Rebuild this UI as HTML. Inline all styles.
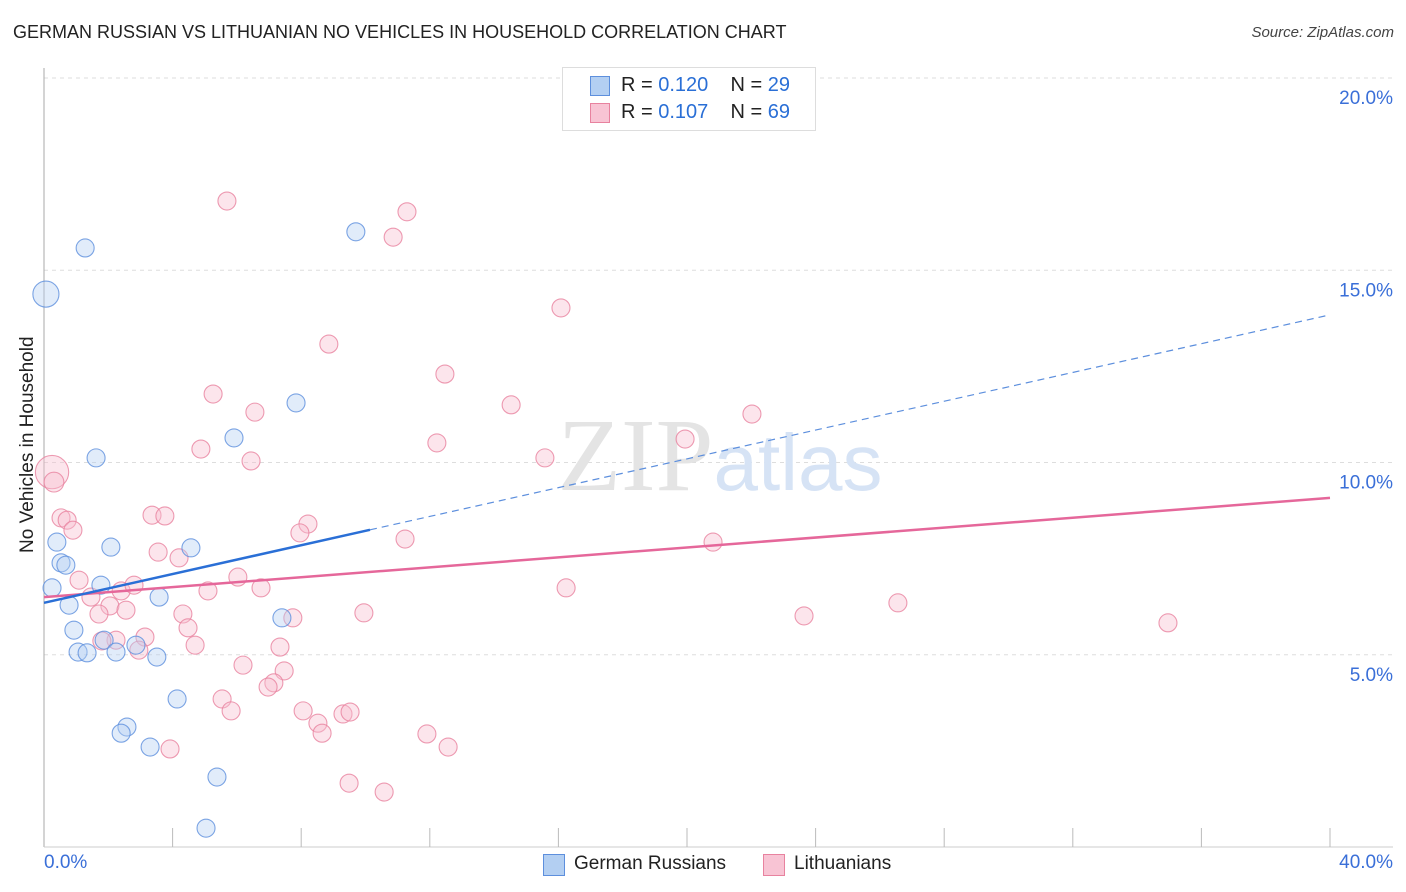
<!DOCTYPE html>
<html><head><meta charset="utf-8"><style>
body{margin:0;background:#fff;font-family:"Liberation Sans",sans-serif;}
#wrap{position:relative;width:1406px;height:892px;overflow:hidden}
.t{position:absolute;white-space:nowrap}
</style></head><body><div id="wrap">
<div class="t" style="left:13px;top:22px;font-size:18px;color:#222">GERMAN RUSSIAN VS LITHUANIAN NO VEHICLES IN HOUSEHOLD CORRELATION CHART</div>
<div class="t" style="right:12px;top:24px;font-size:15px;color:#444;font-style:italic">Source: ZipAtlas.com</div>
<svg id="plot" width="1406" height="892" style="position:absolute;left:0;top:0"></svg>
</div>
<script>
const blueX=[0.06,1.28,9.70,7.84,5.91,1.62,0.40,2.08,4.57,0.53,0.68,0.25,1.77,0.78,3.58,0.93,7.40,1.06,1.34,1.87,2.86,2.24,3.51,4.14,2.58,2.40,3.30,5.38,5.04];
const blueY=[14.38,15.58,16.0,11.55,10.64,10.12,7.93,7.80,7.78,7.39,7.33,6.74,6.81,6.29,6.50,5.64,5.96,5.07,5.05,5.38,5.25,5.07,4.94,3.85,3.12,2.96,2.60,1.82,0.49];
const blueS=[1.45,1,1,1,1,1,1,1,1,1,1,1,1,1,1,1,1,1,1,1,1,1,1,1,1,1,1,1,1];
const pinkX=[5.69,11.29,10.86,16.08,8.86,12.47,5.26,14.53,6.56,22.02,19.94,12.22,4.88,15.58,6.44,0.25,0.31,0.53,0.72,0.90,3.36,3.76,8.21,7.96,11.23,20.81,3.55,4.20,1.09,6.03,6.75,16.24,2.40,2.80,1.46,2.05,2.55,1.71,4.32,5.10,7.74,9.95,23.64,26.56,34.96,4.48,4.70,3.14,2.24,1.80,2.95,7.34,7.47,6.19,7.15,6.97,5.54,5.82,8.06,8.52,8.65,9.30,9.52,11.91,12.57,3.92,9.49,10.58];
const pinkY=[16.80,16.52,15.86,14.02,13.08,12.30,11.78,11.50,11.31,11.26,10.61,10.51,10.35,10.12,10.04,9.75,9.49,8.56,8.50,8.24,8.63,8.61,8.40,8.17,8.01,7.93,7.67,7.52,6.94,7.02,6.74,6.74,6.66,6.81,6.50,6.27,6.16,6.06,6.06,6.66,5.96,6.09,6.01,6.35,5.83,5.70,5.25,5.46,5.38,5.36,5.12,5.20,4.58,4.73,4.27,4.16,3.85,3.54,3.54,3.22,2.96,3.46,3.51,2.94,2.60,2.55,1.66,1.43];
const pinkS=[1,1,1,1,1,1,1,1,1,1,1,1,1,1,1,1.85,1.1,1,1,1,1,1,1,1,1,1,1,1,1,1,1,1,1,1,1,1,1,1,1,1,1,1,1,1,1,1,1,1,1,1,1,1,1,1,1,1,1,1,1,1,1,1,1,1,1,1,1,1];
const yTicks=[5,10,15,20];
const yTickLabels=["5.0%","10.0%","15.0%","20.0%"];
const xTicks=[0,4,8,12,16,20,24,28,32,36,40];
const blueTrend=[6.35,13.84], blueSolidEnd=10.14;
const pinkTrend=[6.50,9.08];

const NS="http://www.w3.org/2000/svg";
const svg=document.getElementById('plot');
const X=v=>44+v*32.15, Y=v=>847-v*38.45;
function mk(t,a){const e=document.createElementNS(NS,t);for(const k in a)e.setAttribute(k,a[k]);svg.appendChild(e);return e;}
yTicks.forEach((v,i)=>{
 const g=mk('line',{x1:44,x2:1393,y1:Y(v),y2:Y(v),stroke:'#ddd','stroke-dasharray':'4,4'});
 
 
 const t=mk('text',{x:1393,y:Y(v)+26,'text-anchor':'end','font-size':19,fill:'#3a6fd8','font-family':'Liberation Sans'});
 t.textContent=yTickLabels[i];
 
 
});
const yl=mk('line',{x1:44,x2:44,y1:68,y2:847,stroke:'#aaa'});


const xl=mk('line',{x1:44,x2:1393,y1:847,y2:847,stroke:'#ccc'});


xTicks.forEach(v=>{if(v==0)return;
 const l=mk('line',{x1:X(v),x2:X(v),y1:828,y2:847,stroke:'#bbb'});
 
 
});
const wm=mk('text',{x:720,y:490,'text-anchor':'middle','font-size':104,fill:'#e4e4e4','font-family':'Liberation Serif'});
wm.innerHTML='ZIP<tspan fill="#d6e3f5" font-family="Liberation Sans" font-size="80">atlas</tspan>';


function dots(xs,ys,ss,fill,stroke,name){xs.forEach((x,i)=>{
 const c=mk('circle',{cx:X(x),cy:Y(ys[i]),r:9*ss[i],fill:fill,'fill-opacity':0.4,stroke:stroke,'stroke-opacity':0.8,'stroke-width':1.1});
 
 
});}
dots(pinkX,pinkY,pinkS,'#f8bfd0','#e8829f','lithuanian-point');
dots(blueX,blueY,blueS,'#b3cff2','#5d8fdd','german-russian-point');
const pl=mk('line',{x1:X(0),y1:Y(pinkTrend[0]),x2:X(40),y2:Y(pinkTrend[1]),stroke:'#e5679a','stroke-width':2.5});


const by=v=>blueTrend[0]+(blueTrend[1]-blueTrend[0])*v/40;
const bl=mk('line',{x1:X(0),y1:Y(blueTrend[0]),x2:X(blueSolidEnd),y2:Y(by(blueSolidEnd)),stroke:'#2a6fd6','stroke-width':2.5});


const bd=mk('line',{x1:X(blueSolidEnd),y1:Y(by(blueSolidEnd)),x2:X(40),y2:Y(blueTrend[1]),stroke:'#5d8fdd','stroke-width':1.2,'stroke-dasharray':'7,5'});


</script>
<div class="t" style="left:-70px;top:444px;font-size:19px;color:#222;transform:rotate(-90deg);width:196px;text-align:center">No Vehicles in Household</div>
<div class="t" style="left:44px;top:852px;font-size:19px;color:#3a6fd8">0.0%</div>
<div class="t" style="right:13px;top:852px;font-size:19px;color:#3a6fd8">40.0%</div>
<div style="position:absolute;left:562px;top:67px;width:252px;height:62px;border:1px solid #ddd;background:#fff;font-size:20px;color:#222">
 <div style="position:absolute;left:27px;top:8px;width:18px;height:18px;background:#b3cff2;border:1px solid #5d8fdd"></div>
 <div class="t" style="left:58px;top:6px">R = <span style="color:#2a6fd6">0.120</span>&nbsp;&nbsp;&nbsp; N = <span style="color:#2a6fd6">29</span></div>
 <div style="position:absolute;left:27px;top:35px;width:18px;height:18px;background:#f8c4d4;border:1px solid #e8829f"></div>
 <div class="t" style="left:58px;top:33px">R = <span style="color:#2a6fd6">0.107</span>&nbsp;&nbsp;&nbsp; N = <span style="color:#2a6fd6">69</span></div>
</div>
<div style="position:absolute;left:543px;top:854px;width:20px;height:20px;background:#b3cff2;border:1px solid #5d8fdd"></div>
<div class="t" style="left:574px;top:853px;font-size:19px;color:#222">German Russians</div>
<div style="position:absolute;left:763px;top:854px;width:20px;height:20px;background:#f8c4d4;border:1px solid #e8829f"></div>
<div class="t" style="left:794px;top:853px;font-size:19px;color:#222">Lithuanians</div>
</body></html>
